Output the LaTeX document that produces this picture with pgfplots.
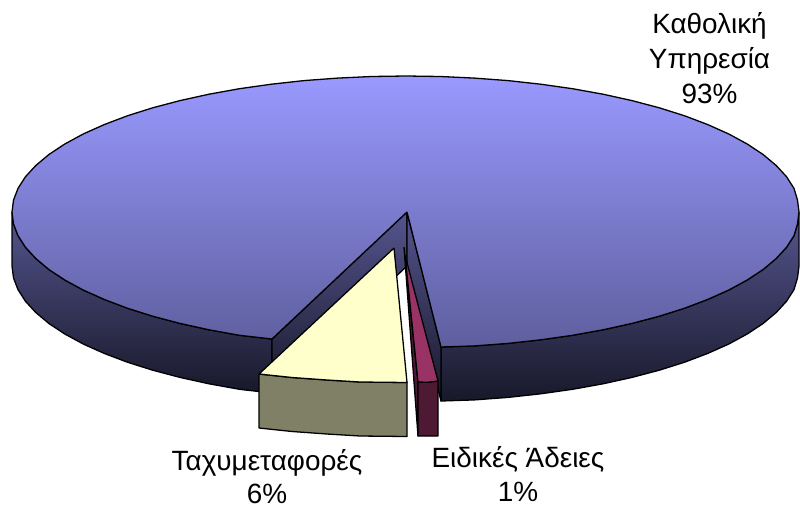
\documentclass[border=0pt]{standalone}
\usepackage{pgfplots}
\pgfplotsset{compat=1.18}
\usepackage{fontspec}
\setmainfont{Liberation Sans}
\definecolor{topA}{HTML}{9999FF}
\definecolor{topB}{HTML}{5E5E9E}
\definecolor{wallA}{HTML}{55558F}
\definecolor{wallB}{HTML}{18182A}
\definecolor{yel}{HTML}{FFFFCC}
\definecolor{yelw}{HTML}{808066}
\definecolor{pnk}{HTML}{993366}
\definecolor{pnkw}{HTML}{4D1933}
\begin{document}
\begin{tikzpicture}
\begin{axis}[
  width=800bp,height=506bp,scale only axis,
  xmin=0,xmax=800,ymin=0,ymax=506,y dir=reverse,
  hide axis,clip=false,
  every axis plot/.append style={line width=1.3pt,line join=round,mark=none}
]
\path[use as bounding box] (axis cs:0,0) rectangle (axis cs:800,506);
% right outer wall
\addplot[draw=black,top color=wallA,bottom color=wallB] coordinates {
(799,212)(797.5,223.9)(794,235.6)(786.6,247.2)(776.2,258.5)(763.1,269.5)(747.2,280)(728.8,290)(707.8,299.4)(684.6,308.2)(659.3,316.2)(632,323.4)(603,329.8)(572.5,335.3)(540.7,339.8)(508,343.4)(474.4,345.9)(441,347)
(441,401)(474.4,399.9)(508,397.4)(540.7,393.8)(572.5,389.3)(603,383.8)(632,377.4)(659.3,370.2)(684.6,362.2)(707.8,353.4)(728.8,344)(747.2,334)(763.1,323.5)(776.2,312.5)(786.6,301.2)(794,289.6)(797.5,277.9)(799,266)(799,212)};
% left outer wall
\addplot[draw=black,top color=wallA,bottom color=wallB] coordinates {
(12,212)(13.5,223.9)(18,235.6)(25.4,247.2)(35.8,258.5)(48.9,269.5)(64.8,280)(83.2,290)(104.2,299.4)(127.4,308.2)(152.7,316.2)(180,323.4)(209,329.8)(239.5,335.3)(272,339)
(272,393)(239.5,389.3)(209,383.8)(180,377.4)(152.7,370.2)(127.4,362.2)(104.2,353.4)(83.2,344)(64.8,334)(48.9,323.5)(35.8,312.5)(25.4,301.2)(18,289.6)(13.5,277.9)(12,266)(12,212)};
% cut walls
\addplot[draw=black,top color=wallA,bottom color=wallB] coordinates {(407,212)(272,339)(272,393)(407,266)(407,212)};
\addplot[draw=black,top color=wallA,bottom color=wallB] coordinates {(407,212)(441,347)(441,401)(407,266)(407,212)};
% main top
\addplot[draw=black,top color=topA,bottom color=topB] coordinates {
(407,212)(441,347)(474.4,345.9)(508,343.4)(540.7,339.8)(572.5,335.3)(603,329.8)(632,323.4)(659.3,316.2)(684.6,308.2)(707.8,299.4)(728.8,290)(747.2,280)(763.1,269.5)(776.2,258.5)(786.6,247.2)(794,235.6)(797.5,223.9)(799,212)
(797.5,200.1)(794,188.4)(786.6,176.8)(776.2,165.5)(763.1,154.5)(747.2,144)(728.8,134)(707.8,124.6)(684.6,115.8)(659.3,107.8)(632,100.6)(603,94.2)(572.5,88.7)(540.7,84.2)(508,80.6)(474.4,78.1)(440.3,76.5)(406,76)
(371.7,76.5)(337.6,78.1)(304,80.6)(271.3,84.2)(239.5,88.7)(209,94.2)(180,100.6)(152.7,107.8)(127.4,115.8)(104.2,124.6)(83.2,134)(64.8,144)(48.9,154.5)(35.8,165.5)(25.4,176.8)(18,188.4)(13.5,200.1)(12,212)
(13.5,223.9)(18,235.6)(25.4,247.2)(35.8,258.5)(48.9,269.5)(64.8,280)(83.2,290)(104.2,299.4)(127.4,308.2)(152.7,316.2)(180,323.4)(209,329.8)(239.5,335.3)(272,339)(407,212)};
% yellow slice
\addplot[draw=black,fill=yelw] coordinates {(259,374)(292,377.5)(327,380)(360,382)(407,382.5)(407,436.5)(360,436)(327,434)(292,431.5)(259,428)(259,374)};
\addplot[draw=black,fill=yel] coordinates {(394,248)(259,374)(292,377.5)(327,380)(360,382)(407,382.5)(394,248)};
% magenta slice
\addplot[draw=black,fill=pnkw] coordinates {(404,247)(418,382)(418,436)(404,247)};
\addplot[draw=black,fill=pnkw] coordinates {(418,382)(428,382.3)(438,381)(438,436)(418,436)(418,382)};
\addplot[draw=black,fill=pnk] coordinates {(405,255)(438,381)(428,382.3)(418,382)(405,255)};
\node[align=center,inner sep=0pt,font=\fontsize{28}{35}\selectfont] at (axis cs:709.5,58) {Καθολική\\Υπηρεσία\\93\%};
\node[align=center,inner sep=0pt,font=\fontsize{28}{33}\selectfont] at (axis cs:267,477) {Ταχυμεταφορές\\6\%};
\node[align=center,inner sep=0pt,font=\fontsize{28}{34}\selectfont] at (axis cs:518,474) {Ειδικές Άδειες\\1\%};
\end{axis}
\end{tikzpicture}
\end{document}
